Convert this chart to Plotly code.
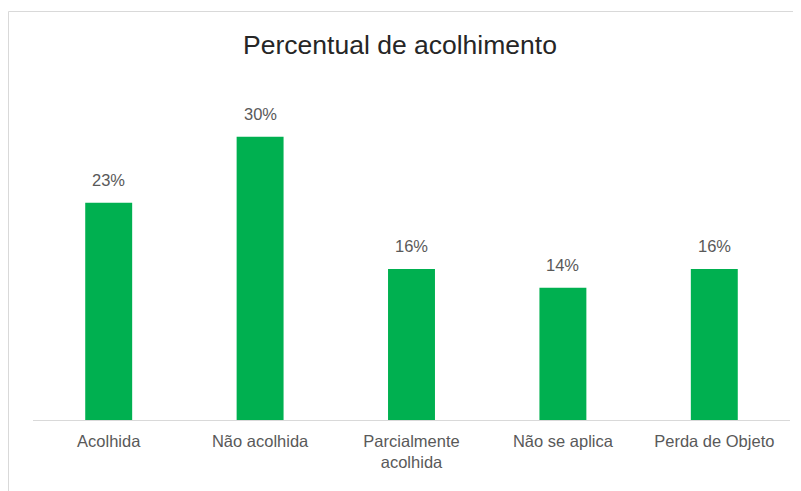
import plotly.graph_objects as go

categories = ["Acolhida", "Não acolhida", "Parcialmente<br>acolhida", "Não se aplica", "Perda de Objeto"]
values = [0.23, 0.30, 0.16, 0.14, 0.16]
labels = ["23%", "30%", "16%", "14%", "16%"]

FONT = "Liberation Sans, Arial, sans-serif"

fig = go.Figure()
fig.add_trace(go.Bar(
    x=categories, y=values,
    marker=dict(color="#00B050", line=dict(width=0)),
    width=0.31,
    hoverinfo="skip",
))

for c, v, t in zip(categories, values, labels):
    fig.add_annotation(x=c, y=v, text=t, showarrow=False, yanchor="bottom", yshift=12,
                       font=dict(family=FONT, size=16.5, color="#595959"))

# page body has an 8px margin, so the figure is placed at (8, 8) in the window
fig.update_layout(
    width=801, height=491,
    margin=dict(l=25, r=19, t=72, b=79),
    paper_bgcolor="white", plot_bgcolor="white",
    showlegend=False,
    title=dict(text="Percentual de acolhimento", x=(400 - 8) / 801, xanchor="center", y=1 - 37/491, yanchor="middle",
               font=dict(family=FONT, size=26.5, color="#262626")),
    xaxis=dict(showline=True, linecolor="#D9D9D9", linewidth=1, ticks="outside", ticklen=6,
               tickcolor="rgba(0,0,0,0)", showgrid=False, zeroline=False,
               tickfont=dict(family=FONT, size=16.5, color="#595959")),
    yaxis=dict(range=[0, 0.36], visible=False, showgrid=False, zeroline=False),
    shapes=[dict(type="rect", xref="paper", yref="paper", x0=(0.5 - 25) / 757, x1=1.2,
                 y0=-0.4, y1=(412 - 3.5) / 340, line=dict(color="#D9D9D9", width=1),
                 fillcolor="rgba(0,0,0,0)", layer="below")],
)

fig.write_html("out.html")
